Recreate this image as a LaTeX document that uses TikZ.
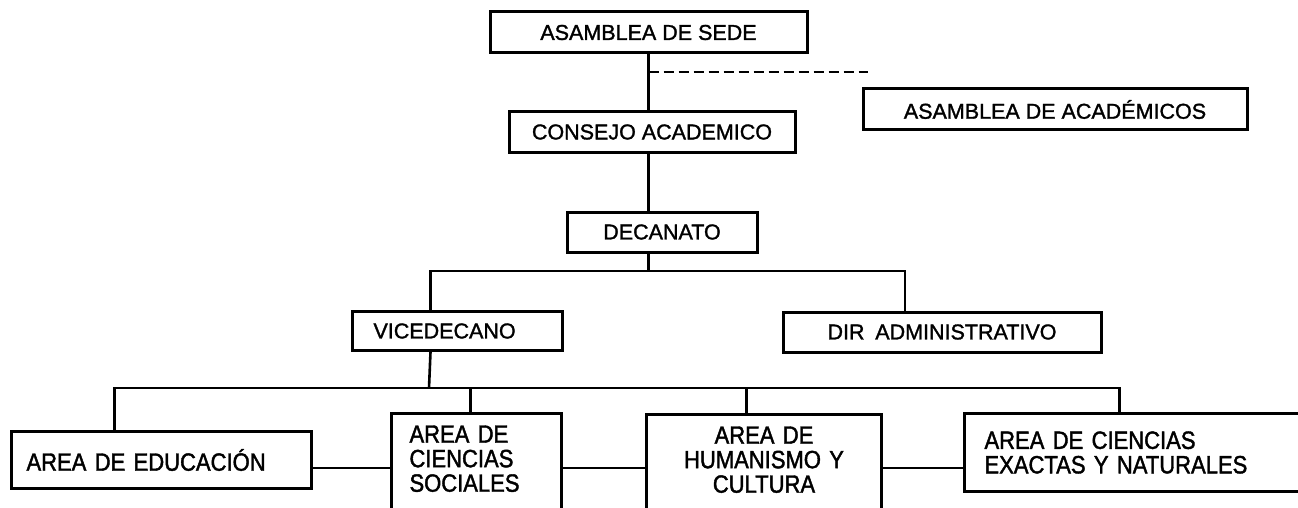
\documentclass[tikz,border=0pt]{standalone}
\usepackage{fontspec}
\setmainfont{Liberation Sans}[FakeBold=1.2]
\newfontfamily\boxfont[FakeBold=1.4]{Liberation Sans}
\newfontfamily\areafont[FakeStretch=0.88, FakeBold=1.6]{Liberation Sans}

\begin{document}
\begin{tikzpicture}[x=1pt, y=-1pt,
        box/.style={draw, line width=3, inner sep=0, font=\boxfont\fontsize{21.5}{24}\selectfont},
        area/.style={draw, line width=3, font=\areafont\fontsize{25}{24.5}\selectfont},
        link/.style={line width=2.6}]
                \useasboundingbox (0,0) rectangle (1298,508);

                \node[box, minimum width=317, minimum height=41](sede) at (648.5,32.5) {ASAMBLEA DE SEDE};
                \node[box, minimum width=384, minimum height=41](acad) at (1055,109.5) {ASAMBLEA DE ACADÉMICOS};
                \node[box, minimum width=286, minimum height=40](consejo) at (652,132) {CONSEJO ACADEMICO};
                \node[box, minimum width=190, minimum height=40](decanato) at (662,232) {DECANATO};
                \node[box, anchor=north west, text width=168, inner xsep=21, align=left, minimum height=39](vice) at (351,310) {VICEDECANO};
                \node[box, minimum width=318, minimum height=40](dir) at (942,332) {DIR\enspace ADMINISTRATIVO};

                \node[area, anchor=north west, text width=270, inner xsep=15, inner ysep=0, align=left, minimum height=57](educ) at (10,430) {AREA DE EDUCACIÓN};
                \node[area, anchor=north west, text width=134, inner xsep=18, inner ysep=12, align=left, text depth=80](soc) at (390,412) {AREA DE\\CIENCIAS\\SOCIALES};
                \node[area, anchor=north west, text width=211, inner xsep=12, inner ysep=12, align=center, text depth=80](hum) at (645,413) {AREA DE\\HUMANISMO Y\\CULTURA};
                \node[area, anchor=north west, text width=340, inner xsep=20, inner ysep=0, align=left, minimum height=78](exact) at (963,412) {AREA DE CIENCIAS\\EXACTAS Y NATURALES};

                \coordinate (dashend) at (868,72);
                \coordinate (split1) at (647,271);
                \coordinate (split2) at (429,388);
                \coordinate (row) at (0,468);

                \draw[link] (sede.south) -- (sede.south |- consejo.north);
                \draw[link, dash pattern=on 10pt off 5pt] (sede.south |- dashend) -- (dashend);
                \draw[link] (sede.south |- consejo.south) -- (sede.south |- decanato.north);
                \draw[link] (sede.south |- decanato.south) -- (sede.south |- split1);
                \draw[link] ([xshift=-27]vice.north) |- (split1) -| ([xshift=-37]dir.north);

                \draw[link] ([xshift=-27]vice.south) -- (split2);
                \draw[link] ([xshift=-47]educ.north) |- (split2) -| ([xshift=-35]exact.north);
                \draw[link] ([xshift=-6]soc.north) -- ([xshift=-6]soc.north |- split2);
                \draw[link] ([xshift=-17.5]hum.north) -- ([xshift=-17.5]hum.north |- split2);

                \draw[link] (educ.east |- row) -- (soc.west |- row);
                \draw[link] (soc.east |- row) -- (hum.west |- row);
                \draw[link] (hum.east |- row) -- (exact.west |- row);
\end{tikzpicture}
\end{document}
